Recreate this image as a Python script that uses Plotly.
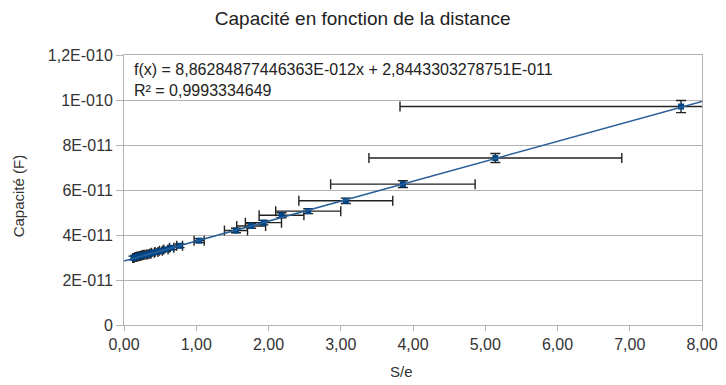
import plotly.graph_objects as go

# Data
s_over_e = [0.13, 0.16, 0.19, 0.22, 0.25, 0.28, 0.32, 0.36, 0.40, 0.45, 0.51, 0.58,
            0.66, 0.77, 1.04, 1.55, 1.76, 1.93, 2.18, 2.55, 3.07, 3.86, 5.14, 7.71]
capacite = [2.98e-11, 3.02e-11, 3.05e-11, 3.07e-11, 3.10e-11, 3.12e-11, 3.13e-11, 3.17e-11,
            3.21e-11, 3.25e-11, 3.30e-11, 3.36e-11, 3.43e-11, 3.52e-11, 3.75e-11, 4.20e-11,
            4.40e-11, 4.55e-11, 4.88e-11, 5.06e-11, 5.52e-11, 6.26e-11, 7.42e-11, 9.71e-11]
err_x = [0.01, 0.01, 0.01, 0.01, 0.01, 0.01, 0.01, 0.01, 0.02, 0.02, 0.02, 0.03,
         0.03, 0.04, 0.07, 0.16, 0.20, 0.25, 0.31, 0.45, 0.65, 1.00, 1.75, 3.89]
err_y = [0.8e-12, 0.8e-12, 0.8e-12, 0.8e-12, 0.8e-12, 0.8e-12, 0.8e-12, 0.8e-12,
         0.8e-12, 0.8e-12, 0.8e-12, 0.8e-12, 0.8e-12, 0.8e-12, 0.9e-12, 1.0e-12,
         1.0e-12, 1.0e-12, 1.1e-12, 1.1e-12, 1.2e-12, 1.5e-12, 2.0e-12, 2.7e-12]

fit_slope = 8.86284877446363e-12
fit_intercept = 2.8443303278751e-11
fit_x = [0.0, 8.0]
fit_y = [fit_intercept + fit_slope * v for v in fit_x]

x_ticks = [0, 1, 2, 3, 4, 5, 6, 7, 8]
x_ticktext = ["0,00", "1,00", "2,00", "3,00", "4,00", "5,00", "6,00", "7,00", "8,00"]
y_ticks = [0, 2e-11, 4e-11, 6e-11, 8e-11, 1e-10, 1.2e-10]
y_ticktext = ["0", "2E-011", "4E-011", "6E-011", "8E-011", "1E-010", "1,2E-010"]

FONT = "Liberation Sans, Arial, sans-serif"
GRID = "#b3b3b3"
TXT = "#333333"

fig = go.Figure()
fig.add_trace(go.Scatter(
    x=s_over_e, y=capacite, mode="markers",
    marker=dict(symbol="square", size=6, color="#004586"),
    error_x=dict(type="data", array=err_x, visible=True, color="#222222", thickness=1.4, width=5),
    error_y=dict(type="data", array=err_y, visible=True, color="#222222", thickness=1.4, width=5),
    showlegend=False, cliponaxis=True,
))
fig.add_trace(go.Scatter(
    x=fit_x, y=fit_y, mode="lines",
    line=dict(color="#2a6099", width=1.6),
    showlegend=False,
))

fig.update_layout(
    width=718, height=377,
    margin=dict(l=116, r=24, t=47, b=60),
    paper_bgcolor="white", plot_bgcolor="white",
    font=dict(family=FONT, color=TXT, size=16),
    title=dict(text="Capacité en fonction de la distance", x=0.494, xanchor="center",
               y=0.973, yanchor="middle", font=dict(size=19, color="#222222")),
    xaxis=dict(range=[0, 8], tickvals=x_ticks, ticktext=x_ticktext, automargin=False,
               ticklabeloverflow="allow",
               showgrid=False, zeroline=False, showline=True, linecolor=GRID, linewidth=1,
               mirror=True, ticks="outside", tickcolor=GRID, ticklen=5,
               tickfont=dict(size=16, color=TXT)),
    yaxis=dict(range=[0, 1.2e-10], tickvals=y_ticks, ticktext=y_ticktext, automargin=False,
               showgrid=True, gridcolor=GRID, gridwidth=1, zeroline=False,
               showline=True, linecolor=GRID, linewidth=1, mirror=True,
               ticks="outside", tickcolor=GRID, ticklen=7,
               tickfont=dict(size=16, color=TXT)),
)

# axis titles
fig.add_annotation(xref="paper", yref="paper", x=0.48, y=-0.174, xanchor="center", yanchor="middle",
                   text="S/e", showarrow=False, font=dict(size=15, color=TXT))
fig.add_annotation(xref="paper", yref="paper", x=-0.181, y=0.478, xanchor="center", yanchor="middle",
                   text="Capacité (F)", textangle=-90, showarrow=False, font=dict(size=15, color=TXT))

fig.add_annotation(
    xref="paper", yref="paper", x=0.013, y=0.985, xanchor="left", yanchor="top",
    text="f(x) = 8,86284877446363E-012x + 2,8443303278751E-011<br>R² = 0,9993334649",
    showarrow=False, align="left", font=dict(size=16, color="#222222"),
)

fig.write_html("out.html")
